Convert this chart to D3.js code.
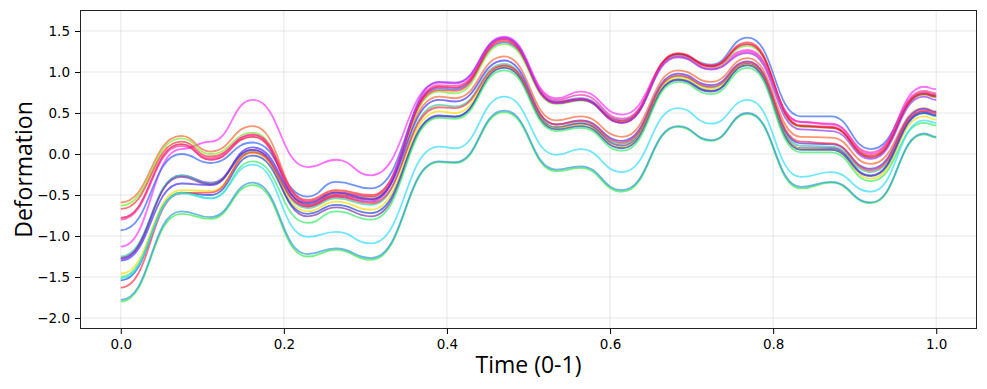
<!DOCTYPE html>
<html>
<head>
<meta charset="utf-8">
<script src="https://cdn.jsdelivr.net/npm/d3@7"></script>
<style>
	body { margin: 0; background: #fff; }
	.tick text { font-family: "DejaVu Sans", sans-serif; font-size: 13.5px; fill: #000; }
	.lbl { font-family: "Open Sans", sans-serif; font-size: 23px; fill: #000; }
</style>
</head>
<body>
<div class="container"></div>
<script>
var tKnots = [0, 0.074, 0.11, 0.162, 0.229, 0.264, 0.307, 0.39, 0.41, 0.47, 0.534, 0.564, 0.615, 0.683, 0.724, 0.769, 0.834, 0.871, 0.92, 0.985, 1.0];

var xTicks = [0, 0.2, 0.4, 0.6, 0.8, 1.0];
var yTicks = [-2.0, -1.5, -1.0, -0.5, 0.0, 0.5, 1.0, 1.5];

var l1 = [-1.13, 0.06, 0.15, 0.66, -0.16, -0.07, -0.26, 0.87, 0.86, 1.43, 0.68, 0.76, 0.48, 1.21, 1.07, 1.27, 0.39, 0.36, 0.00, 0.82, 0.79];
var l2 = [-0.93, 0.00, -0.11, 0.14, -0.52, -0.34, -0.42, 0.80, 0.79, 1.36, 0.64, 0.68, 0.41, 1.21, 1.09, 1.42, 0.46, 0.46, 0.06, 0.74, 0.71];
var l3 = [-0.59, 0.22, 0.03, 0.34, -0.58, -0.46, -0.52, 0.70, 0.68, 1.19, 0.41, 0.46, 0.21, 1.02, 0.88, 1.17, 0.21, 0.20, -0.12, 0.56, 0.52];
var l4 = [-0.63, 0.19, 0.00, 0.26, -0.60, -0.48, -0.54, 0.76, 0.74, 1.34, 0.61, 0.65, 0.39, 1.20, 1.05, 1.32, 0.33, 0.32, -0.03, 0.72, 0.69];
var l5 = [-0.67, 0.15, -0.03, 0.23, -0.56, -0.44, -0.50, 0.78, 0.77, 1.38, 0.62, 0.66, 0.40, 1.23, 1.08, 1.36, 0.35, 0.33, -0.02, 0.75, 0.72];
var l6 = [-0.78, 0.12, -0.07, 0.21, -0.62, -0.50, -0.56, 0.82, 0.81, 1.40, 0.63, 0.67, 0.38, 1.22, 1.07, 1.34, 0.34, 0.32, -0.04, 0.73, 0.70];
var l7 = [-0.80, 0.10, -0.05, 0.24, -0.58, -0.47, -0.52, 0.84, 0.83, 1.41, 0.66, 0.72, 0.43, 1.19, 1.04, 1.25, 0.39, 0.37, 0.02, 0.77, 0.74];
var l8 = [-1.28, -0.26, -0.35, 0.05, -0.64, -0.52, -0.58, 0.88, 0.87, 1.42, 0.62, 0.66, 0.38, 1.18, 1.03, 1.23, 0.30, 0.28, -0.06, 0.70, 0.66];
var l9 = [-1.25, -0.26, -0.36, 0.03, -0.66, -0.54, -0.62, 0.60, 0.58, 1.10, 0.33, 0.38, 0.12, 0.95, 0.81, 1.10, 0.10, 0.09, -0.22, 0.50, 0.46];
var l10 = [-1.30, -0.36, -0.38, 0.08, -0.60, -0.47, -0.55, 0.66, 0.64, 1.14, 0.36, 0.41, 0.16, 0.98, 0.84, 1.13, 0.13, 0.12, -0.18, 0.55, 0.51];
var l11 = [-1.27, -0.28, -0.37, 0.05, -0.76, -0.65, -0.76, 0.46, 0.45, 1.07, 0.32, 0.37, 0.10, 0.90, 0.76, 1.10, 0.07, 0.07, -0.26, 0.52, 0.48];
var l12 = [-1.46, -0.44, -0.45, 0.01, -0.70, -0.58, -0.68, 0.52, 0.50, 1.06, 0.31, 0.35, 0.08, 0.93, 0.79, 1.09, 0.06, 0.05, -0.30, 0.46, 0.42];
var l13 = [-1.54, -0.47, -0.50, -0.02, -0.73, -0.62, -0.72, 0.47, 0.46, 1.05, 0.30, 0.34, 0.07, 0.91, 0.77, 1.08, 0.05, 0.05, -0.27, 0.50, 0.47];
var l14 = [-1.63, -0.48, -0.47, 0.02, -0.64, -0.52, -0.60, 0.57, 0.56, 1.08, 0.36, 0.40, 0.14, 0.96, 0.82, 1.12, 0.15, 0.13, -0.20, 0.53, 0.50];
var l15 = [-1.50, -0.47, -0.54, -0.09, -0.84, -0.70, -0.80, 0.44, 0.43, 1.02, 0.28, 0.32, 0.04, 0.88, 0.73, 1.05, 0.02, 0.02, -0.33, 0.38, 0.35];
var l16 = [-1.52, -0.48, -0.54, -0.13, -1.01, -0.95, -1.09, 0.09, 0.07, 0.70, -0.01, 0.06, -0.22, 0.56, 0.37, 0.66, -0.28, -0.22, -0.46, 0.41, 0.38];
var l17 = [-1.80, -0.73, -0.79, -0.38, -1.25, -1.17, -1.29, -0.10, -0.11, 0.51, -0.21, -0.17, -0.46, 0.33, 0.16, 0.49, -0.42, -0.35, -0.60, 0.24, 0.20];
var l18 = [-1.78, -0.70, -0.77, -0.35, -1.22, -1.15, -1.27, -0.09, -0.10, 0.53, -0.19, -0.15, -0.44, 0.34, 0.17, 0.50, -0.40, -0.34, -0.59, 0.25, 0.21];

var lineColors = ["#ff33ff", "#3366ff", "#ff6633", "#77ee33", "#ff3333", "#ee0044", "#ff33aa", "#9933ff",
	"#33cc99", "#4433ff", "#7733aa", "#ffdd00", "#2244dd", "#ff3344", "#33ee66", "#33ddff", "#33ee44", "#3399dd"];

var allLines = [l1, l2, l3, l4, l5, l6, l7, l8, l9, l10, l11, l12, l13, l14, l15, l16, l17, l18];

var W = 987, H = 389;
var padL = 80, padR = 977, padT = 10, padB = 329;

function makeStage(w,h) {
	var stage = d3.select(".container")
		.append("svg")
		.attr("width",w)
		.attr("height",h);
	return stage;
}

var svg = makeStage(W,H);

var x = d3.scaleLinear().domain([-0.05, 1.05]).range([padL, padR]);
var y = d3.scaleLinear().domain([-2.134, 1.756]).range([padB, padT]);

// grid
svg.append("g").selectAll("line").data(xTicks).enter().append("line")
	.attr("x1", function(d) { return x(d); })
	.attr("x2", function(d) { return x(d); })
	.attr("y1", padT).attr("y2", padB)
	.style("stroke", "#b0b0b0").style("stroke-opacity", 0.3).style("stroke-width", 1);
svg.append("g").selectAll("line").data(yTicks).enter().append("line")
	.attr("y1", function(d) { return y(d); })
	.attr("y2", function(d) { return y(d); })
	.attr("x1", padL).attr("x2", padR)
	.style("stroke", "#b0b0b0").style("stroke-opacity", 0.3).style("stroke-width", 1);

var line = d3.line()
	.x(function(d, i) { return x(tKnots[i]); })
	.y(function(d) { return y(d); })
	.curve(d3.curveBumpX);

svg.append("g").selectAll("path").data(allLines).enter().append("path")
	.attr("d", line)
	.style("fill", "none")
	.style("stroke", function(d, i) { return lineColors[i]; })
	.style("stroke-opacity", 0.7)
	.style("stroke-width", 1.8);

// frame
svg.append("rect")
	.attr("x", padL + 0.5).attr("y", padT + 0.5)
	.attr("width", padR - padL - 1).attr("height", padB - padT - 1)
	.style("fill", "none").style("stroke", "#222").style("stroke-width", 1);

var fmt = d3.format(".1f");

var xAxis = svg.append("g")
	.attr("transform", "translate(0," + padB + ")")
	.call(d3.axisBottom(x).tickValues(xTicks).tickFormat(fmt).tickSize(5).tickPadding(5));
xAxis.select(".domain").remove();

var yAxis = svg.append("g")
	.attr("transform", "translate(" + padL + ",0)")
	.call(d3.axisLeft(y).tickValues(yTicks).tickFormat(fmt).tickSize(5).tickPadding(5));
yAxis.select(".domain").remove();

svg.append("text")
	.attr("class", "lbl")
	.attr("x", (padL + padR) / 2)
	.attr("y", 373)
	.attr("text-anchor", "middle")
	.text("Time (0-1)");

svg.append("text")
	.attr("class", "lbl")
	.attr("transform", "translate(32," + ((padT + padB) / 2) + ") rotate(-90)")
	.attr("text-anchor", "middle")
	.text("Deformation");
</script>
</body>
</html>
